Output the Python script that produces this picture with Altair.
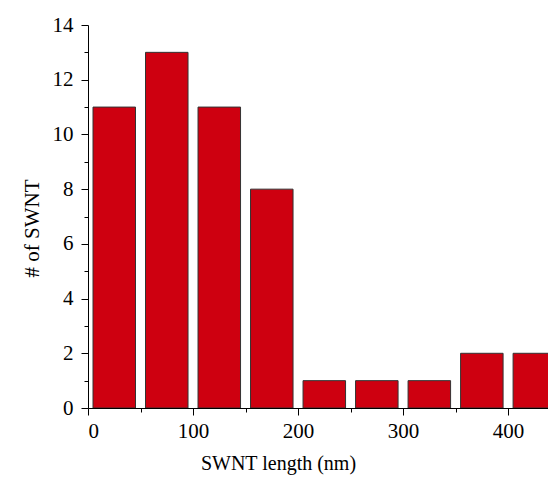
import altair as alt
import pandas as pd

# Histogram of SWNT lengths (bins of 50 nm)
bin_start = [0, 50, 100, 150, 200, 250, 300, 350, 400]
bin_end = [50, 100, 150, 200, 250, 300, 350, 400, 450]
counts = [11, 13, 11, 8, 1, 1, 1, 2, 2]

x_major = [0, 100, 200, 300, 400]
x_minor = [50, 150, 250, 350]
y_major = [0, 2, 4, 6, 8, 10, 12, 14]
y_minor = [1, 3, 5, 7, 9, 11, 13]

df = pd.DataFrame({"start": bin_start, "end": bin_end, "count": counts})

FONT = "Liberation Serif"
xscale = alt.Scale(domain=[0, 438], nice=False, zero=False)
yscale = alt.Scale(domain=[0, 14], nice=False)

bars = alt.Chart(df).mark_bar(
    fill="#CE0010", stroke="#333333", strokeWidth=1, xOffset=5, x2Offset=-5, clip=True
).encode(
    x=alt.X("start:Q", scale=xscale,
            axis=alt.Axis(values=x_major, orient="bottom", title="SWNT length (nm)",
                          tickSize=7, labelPadding=5, labelFontSize=21,
                          titleFontSize=20, titleX=190, titleY=61,
                          titleAlign="center", titleBaseline="alphabetic")),
    x2="end:Q",
    y=alt.Y("count:Q", scale=yscale,
            axis=alt.Axis(values=y_major, orient="left", title="# of SWNT",
                          tickSize=7, labelPadding=8, labelFontSize=21,
                          titleFontSize=21, titleAngle=270, titleX=-50, titleY=203,
                          titleAlign="center", titleBaseline="alphabetic")),
    y2=alt.datum(0),
)

minor = alt.Chart(df).mark_bar(opacity=0).encode(
    x=alt.X("start:Q", scale=xscale,
            axis=alt.Axis(values=x_minor, orient="bottom", labels=False, domain=False,
                          tickSize=4, title=None)),
    x2="end:Q",
    y=alt.Y("count:Q", scale=yscale,
            axis=alt.Axis(values=y_minor, orient="left", labels=False, domain=False,
                          tickSize=4, title=None)),
    y2=alt.datum(0),
)

chart = alt.layer(bars, minor).resolve_axis(
    x="independent", y="independent"
).properties(
    width=460, height=383,
    autosize=alt.AutoSizeParams(type="none"),
    padding={"left": 80, "top": 17, "right": 0, "bottom": 68},
).configure_view(stroke=None).configure_axis(
    grid=False, domainColor="black", tickColor="black", labelColor="black",
    titleColor="black", labelFont=FONT, titleFont=FONT, titleFontWeight="normal",
    domainWidth=1, tickWidth=1,
)

chart.save("out.html", embed_options={"renderer": "svg", "actions": False})
